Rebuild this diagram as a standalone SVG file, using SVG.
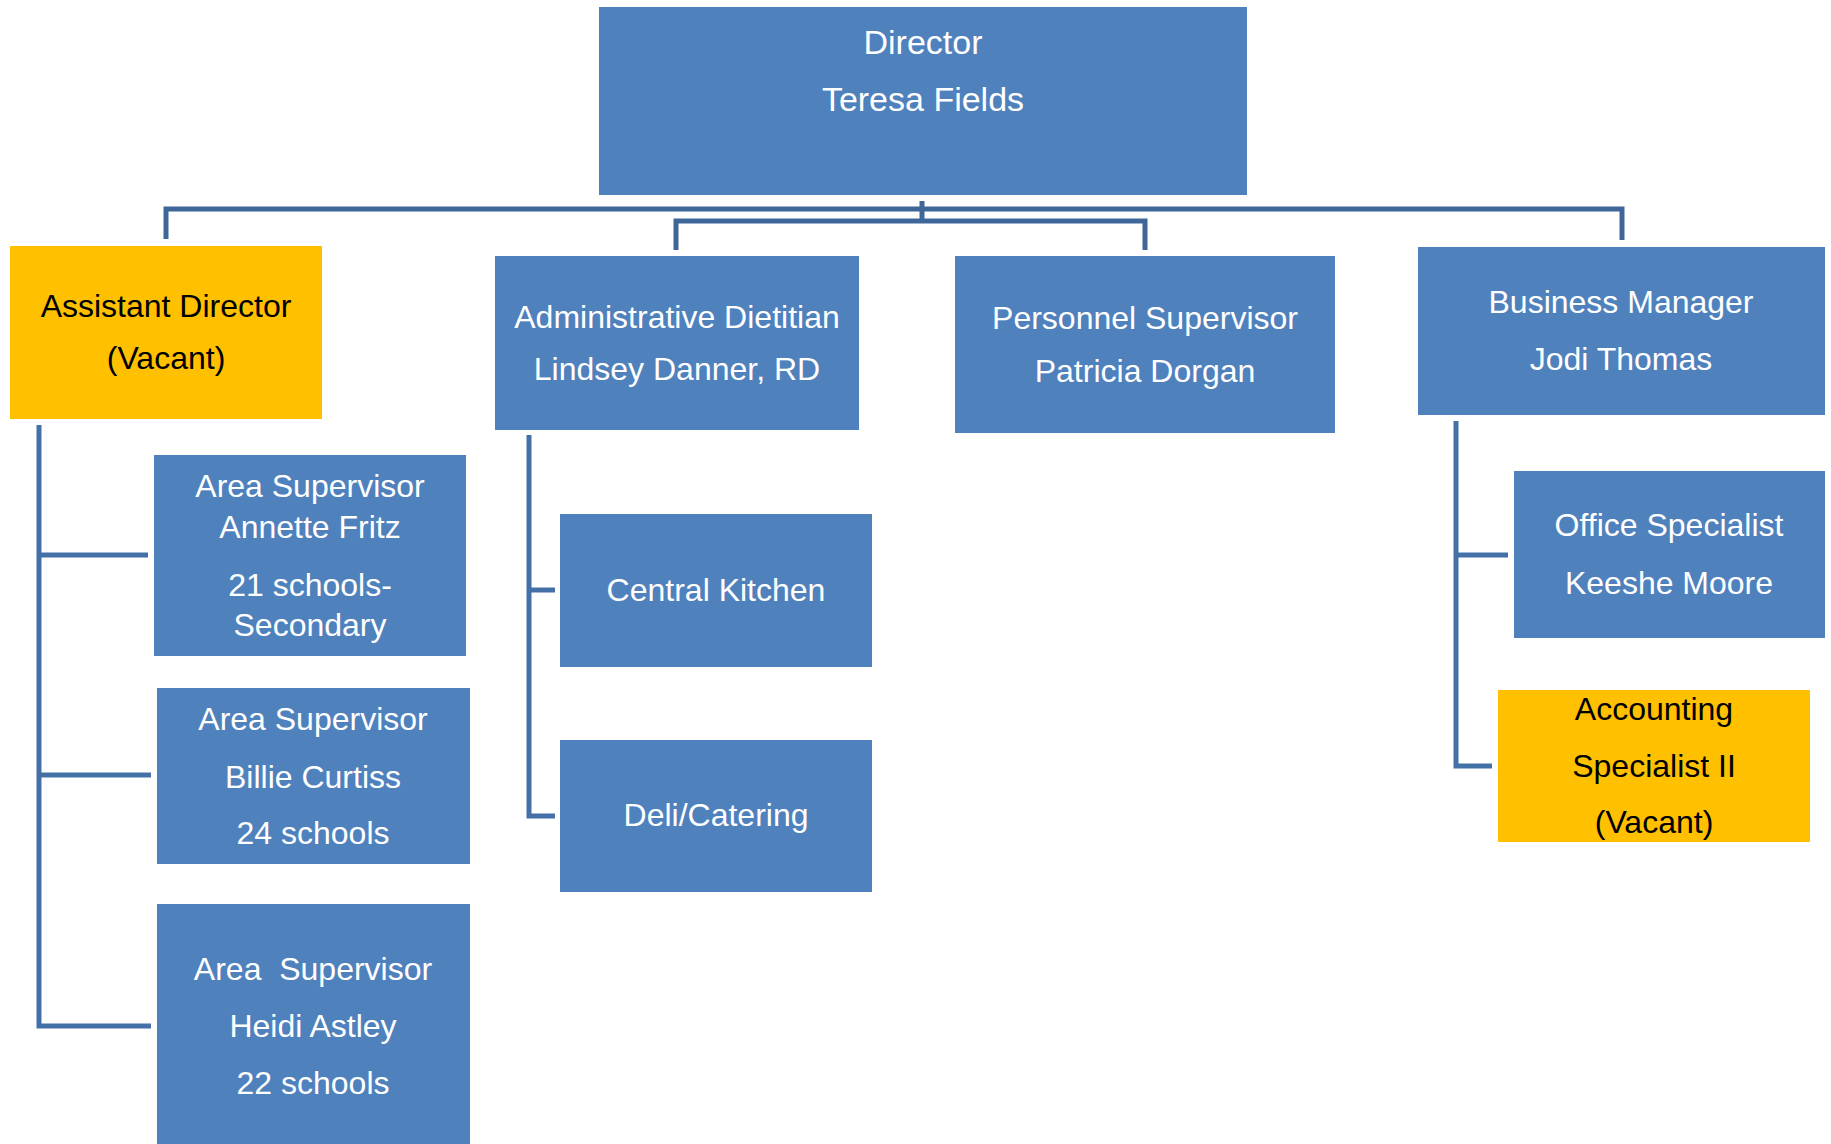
<svg xmlns="http://www.w3.org/2000/svg" width="1831" height="1144" viewBox="0 0 1831 1144">
<style>
.b{fill:#4F81BD}
.o{fill:#FFC000}
text{font-family:"Liberation Sans",Arial,sans-serif;font-size:32px;text-anchor:middle}
.w{fill:#FFFFFF}
.k{fill:#000000}
.c{fill:none;stroke:#4470A8;stroke-width:5}
.ct{fill:none;stroke:#3F6699;stroke-width:5}
</style>
<rect width="1831" height="1144" fill="#FFFFFF"/>
<g id="connectors">
<path class="ct" d="M166 239 V209 H1622 V240"/>
<path class="ct" d="M676 250 V221 H1145 V250"/>
<path class="ct" d="M922 201 V223"/>
<path class="c" d="M39 425 V1026 H151 M39 555 H148 M39 775 H151"/>
<path class="c" d="M529 435 V816 H555 M529 590 H555"/>
<path class="c" d="M1456 421 V766 H1492 M1456 555 H1508"/>
</g>
<g id="director">
<rect class="b" x="599" y="7" width="648" height="188"/>
<text class="w" x="923" y="54" style="font-size:34px">Director</text>
<text class="w" x="923" y="111" style="font-size:34px">Teresa Fields</text>
</g>
<g id="assistant-director">
<rect class="o" x="10" y="246" width="312" height="173"/>
<text class="k" x="166" y="317">Assistant Director</text>
<text class="k" x="166" y="369">(Vacant)</text>
</g>
<g id="admin-dietitian">
<rect class="b" x="495" y="256" width="364" height="174"/>
<text class="w" x="677" y="328">Administrative Dietitian</text>
<text class="w" x="677" y="380">Lindsey Danner, RD</text>
</g>
<g id="personnel-supervisor">
<rect class="b" x="955" y="256" width="380" height="177"/>
<text class="w" x="1145" y="329">Personnel Supervisor</text>
<text class="w" x="1145" y="382">Patricia Dorgan</text>
</g>
<g id="business-manager">
<rect class="b" x="1418" y="247" width="407" height="168"/>
<text class="w" x="1621" y="313">Business Manager</text>
<text class="w" x="1621" y="370">Jodi Thomas</text>
</g>
<g id="area-supervisor-fritz">
<rect class="b" x="154" y="455" width="312" height="201"/>
<text class="w" x="310" y="497">Area Supervisor</text>
<text class="w" x="310" y="538">Annette Fritz</text>
<text class="w" x="310" y="596">21 schools-</text>
<text class="w" x="310" y="636">Secondary</text>
</g>
<g id="area-supervisor-curtiss">
<rect class="b" x="157" y="688" width="313" height="176"/>
<text class="w" x="313" y="730">Area Supervisor</text>
<text class="w" x="313" y="788">Billie Curtiss</text>
<text class="w" x="313" y="844">24 schools</text>
</g>
<g id="area-supervisor-astley">
<rect class="b" x="157" y="904" width="313" height="240"/>
<text class="w" x="313" y="980" xml:space="preserve">Area  Supervisor</text>
<text class="w" x="313" y="1037">Heidi Astley</text>
<text class="w" x="313" y="1094">22 schools</text>
</g>
<g id="central-kitchen">
<rect class="b" x="560" y="514" width="312" height="153"/>
<text class="w" x="716" y="601">Central Kitchen</text>
</g>
<g id="deli-catering">
<rect class="b" x="560" y="740" width="312" height="152"/>
<text class="w" x="716" y="826">Deli/Catering</text>
</g>
<g id="office-specialist">
<rect class="b" x="1514" y="471" width="311" height="167"/>
<text class="w" x="1669" y="536">Office Specialist</text>
<text class="w" x="1669" y="594">Keeshe Moore</text>
</g>
<g id="accounting-specialist">
<rect class="o" x="1498" y="690" width="312" height="152"/>
<text class="k" x="1654" y="720">Accounting</text>
<text class="k" x="1654" y="777">Specialist II</text>
<text class="k" x="1654" y="833">(Vacant)</text>
</g>
</svg>
